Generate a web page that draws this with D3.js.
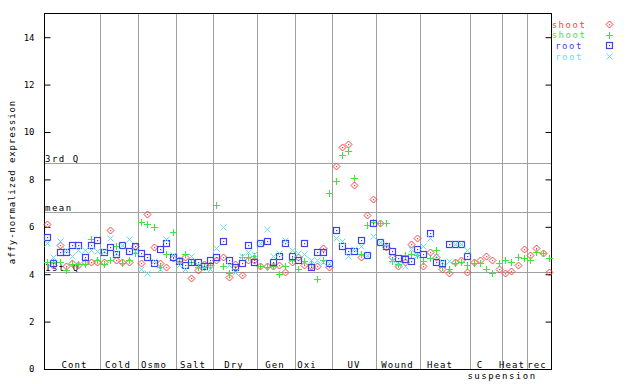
<!DOCTYPE html>
<html><head><meta charset="utf-8">
<script src="https://cdn.jsdelivr.net/npm/d3@7"></script>
<style>
html,body{margin:0;padding:0;background:#fff;}
svg{display:block;}
text{font-family:"DejaVu Sans Mono",monospace;}
</style></head>
<body>
<svg id="chart" width="640" height="384"></svg>
<script>
// ---------------- DATA ----------------
const groupNames = ["Cont","Cold","Osmo","Salt","Dry","Gen","Oxi","UV","Wound","Heat","C","Heat","rec"];
const groupSizes = [9,6,6,6,7,6,6,7,7,8,5,4,4];
const subLabel = "suspension";
const yTicks = [0,2,4,6,8,10,12,14];
const refNames = ["3rd Q","mean","1st Q"];
const refValues = [8.68,6.63,4.08];
const seriesNames = ["shoot","shoot","root","root"];

const shootRep1 = [6.11,4.40,5.23,4.34,4.46,4.40,4.53,4.53,4.53,
 4.53,5.86,4.62,4.50,4.53,5.19,
 4.46,6.52,5.13,4.48,4.29,4.70,
 4.60,4.71,3.82,4.18,4.45,4.40,
 4.62,4.71,3.87,4.45,3.96,4.62,4.62,
 4.34,4.33,4.36,4.40,4.10,4.50,
 4.71,4.40,4.36,4.36,5.09,4.30,
 8.56,9.35,9.49,7.76,4.72,6.48,7.17,
 6.14,5.15,4.74,4.35,4.50,5.26,5.51,
 4.36,4.92,4.72,4.20,4.03,4.53,4.58,4.08,
 4.52,4.62,4.76,4.60,4.20,
 4.05,4.13,4.39,5.05,
 4.81,5.09,4.91,4.09];
const shootRep2 = [4.53,4.50,4.53,4.18,4.43,4.43,4.43,5.47,4.62,
 4.43,4.62,5.19,4.48,4.60,4.88,
 6.19,6.10,5.98,4.31,4.85,5.79,
 4.55,4.85,4.50,4.31,4.31,4.40,
 6.92,4.34,4.06,4.20,4.71,4.71,4.75,
 4.34,4.29,4.34,4.01,4.34,4.60,
 4.20,4.55,4.45,3.78,4.60,7.41,
 7.93,9.03,9.19,8.04,4.84,6.06,6.20,
 6.14,6.14,4.55,4.43,4.81,4.87,4.81,
 4.54,4.68,5.02,4.31,4.24,4.47,4.52,4.39,
 4.47,4.47,4.20,4.05,4.47,
 4.60,4.52,4.73,4.67,
 4.60,4.92,4.88,4.67];
const rootRep1 = [5.55,4.48,4.95,4.95,5.23,5.23,4.71,5.23,5.44,
 4.95,5.13,4.85,5.23,4.98,5.19,
 4.88,4.71,4.48,5.05,5.30,4.74,
 4.55,4.39,4.53,4.50,4.36,4.62,
 4.71,5.40,4.62,4.31,4.48,5.23,4.53,
 5.30,5.41,4.53,4.77,5.30,4.77,
 4.62,5.30,4.31,4.95,4.94,4.46,
 5.86,5.20,4.96,4.96,5.44,4.80,6.14,
 5.37,5.17,4.96,4.67,4.63,4.54,5.05,
 4.84,5.72,4.50,4.46,5.26,5.26,5.26,4.77];
const rootRep2 = [5.33,4.71,5.41,5.02,4.77,5.02,5.02,5.02,4.99,
 4.99,5.51,4.90,5.23,5.47,5.00,
 4.20,4.06,4.55,4.20,5.47,4.81,
 4.39,4.20,4.77,4.40,4.30,4.20,
 5.09,5.98,4.39,4.10,4.77,4.95,4.85,
 5.30,5.89,4.75,4.88,5.44,5.02,
 4.88,4.85,4.62,4.60,4.50,4.46,
 5.53,5.39,4.75,5.05,5.17,4.80,5.60,
 5.35,5.25,4.60,4.45,4.34,5.07,4.81,
 5.21,5.51,4.75,4.50,4.55,5.26,5.26,5.02];

// ---------------- LAYOUT ----------------
const L = 44, R = 552, T = 13.5, B = 369;
const colors = ["#ff4040","#40e640","#4040f0","#58e6f0"];
const labelX = [74.5,118,154,193,234,275,307,354,397.5,440,480,512,537];
const FONT = "9px";

const svg = d3.select("#chart");
const nSlots = d3.sum(groupSizes);
const x = d3.scaleLinear().domain([0, nSlots]).range([L, R]);
const y = d3.scaleLinear().domain([0, 15]).range([B, T]);

// group separators
const bounds = d3.cumsum(groupSizes).slice(0, -1);
svg.append("g").selectAll("line").data(bounds).join("line")
  .attr("x1", d => Math.round(x(d)) + 0.5).attr("x2", d => Math.round(x(d)) + 0.5)
  .attr("y1", T).attr("y2", B)
  .attr("stroke", "#a0a0a0").attr("stroke-width", 1);

// reference lines
svg.append("g").selectAll("line").data(refValues).join("line")
  .attr("x1", L).attr("x2", R)
  .attr("y1", d => Math.round(y(d)) + 0.5).attr("y2", d => Math.round(y(d)) + 0.5)
  .attr("stroke", "#a0a0a0").attr("stroke-width", 1);
svg.append("g").selectAll("text").data(refNames).join("text")
  .attr("x", L + 1).attr("y", (d, i) => Math.round(y(refValues[i])) - 1)
  .attr("font-size", FONT).attr("letter-spacing", "1.5px").attr("fill", "#000")
  .text(d => d);

// axes
const yl = svg.append("g").attr("transform", `translate(${L + 0.5},0)`)
  .call(d3.axisLeft(y).tickValues(yTicks).tickSize(-6).tickPadding(10).tickFormat(d3.format("d")));
yl.select(".domain").remove();
yl.selectAll("text").attr("font-size", FONT).attr("font-family", "DejaVu Sans Mono").attr("fill", "#000");
yl.selectAll(".tick line").attr("stroke", "#000");
const yr = svg.append("g").attr("transform", `translate(${R - 0.5},0)`)
  .call(d3.axisRight(y).tickValues(yTicks).tickSize(-6).tickFormat(""));
yr.select(".domain").remove();
yr.selectAll(".tick line").attr("stroke", "#000");

// frame
svg.append("rect").attr("x", L + 0.5).attr("y", T).attr("width", R - L - 1).attr("height", B - T + 0.5)
  .attr("fill", "none").attr("stroke", "#000").attr("stroke-width", 1);

// group labels
svg.append("g").selectAll("text").data(groupNames).join("text")
  .attr("x", (d, i) => labelX[i]).attr("y", 367.5)
  .attr("text-anchor", "middle").attr("font-size", FONT).attr("letter-spacing", "1.1px")
  .text(d => d);
svg.append("text").attr("x", 502).attr("y", 378.5).attr("text-anchor", "middle")
  .attr("font-size", FONT).attr("letter-spacing", "1.5px").text(subLabel);

// y label
svg.append("text").attr("transform", "translate(15,182) rotate(-90)")
  .attr("text-anchor", "middle").attr("font-size", FONT).attr("letter-spacing", "0.9px")
  .text("affy-normalized expression");

// markers
function marker(g, kind, cx, cy, col) {
  if (kind === 0) {
    g.append("path").attr("d", `M${cx},${cy-3.5}L${cx+3.5},${cy}L${cx},${cy+3.5}L${cx-3.5},${cy}Z`)
      .attr("fill", "none").attr("stroke", col).attr("stroke-width", 1);
    g.append("rect").attr("x", cx - 0.5).attr("y", cy - 0.5).attr("width", 1.2).attr("height", 1.2).attr("fill", col);
  } else if (kind === 1) {
    g.append("path").attr("d", `M${cx-3.5},${cy}H${cx+3.5}M${cx},${cy-3.5}V${cy+3.5}`)
      .attr("stroke", col).attr("stroke-width", 1.1).attr("fill", "none");
  } else if (kind === 2) {
    g.append("rect").attr("x", cx - 3).attr("y", cy - 3).attr("width", 6).attr("height", 6)
      .attr("fill", "none").attr("stroke", col).attr("stroke-width", 1.2);
    g.append("rect").attr("x", cx - 0.5).attr("y", cy - 0.5).attr("width", 1.2).attr("height", 1.2).attr("fill", col);
  } else {
    g.append("path").attr("d", `M${cx-3},${cy-3}L${cx+3},${cy+3}M${cx-3},${cy+3}L${cx+3},${cy-3}`)
      .attr("stroke", col).attr("stroke-width", 1).attr("fill", "none");
  }
}
const allSeries = [shootRep1, shootRep2, rootRep1, rootRep2];
allSeries.forEach((vals, s) => {
  const g = svg.append("g");
  vals.forEach((v, i) => {
    const cx = Math.round(x(i + 0.5)) + 0.5, cy = Math.round(y(v)) + 0.5;
    marker(g, s, cx, cy, colors[s]);
  });
});

// legend
seriesNames.forEach((name, s) => {
  const cy = 24 + s * 10.7;
  svg.append("text").attr("x", 569).attr("y", cy + 3.5).attr("text-anchor", "middle")
    .attr("font-size", FONT).attr("letter-spacing", "1.5px").attr("fill", colors[s]).text(name);
  marker(svg.append("g"), s, 609.5, Math.round(cy) + 0.5, colors[s]);
});
</script>
</body></html>
